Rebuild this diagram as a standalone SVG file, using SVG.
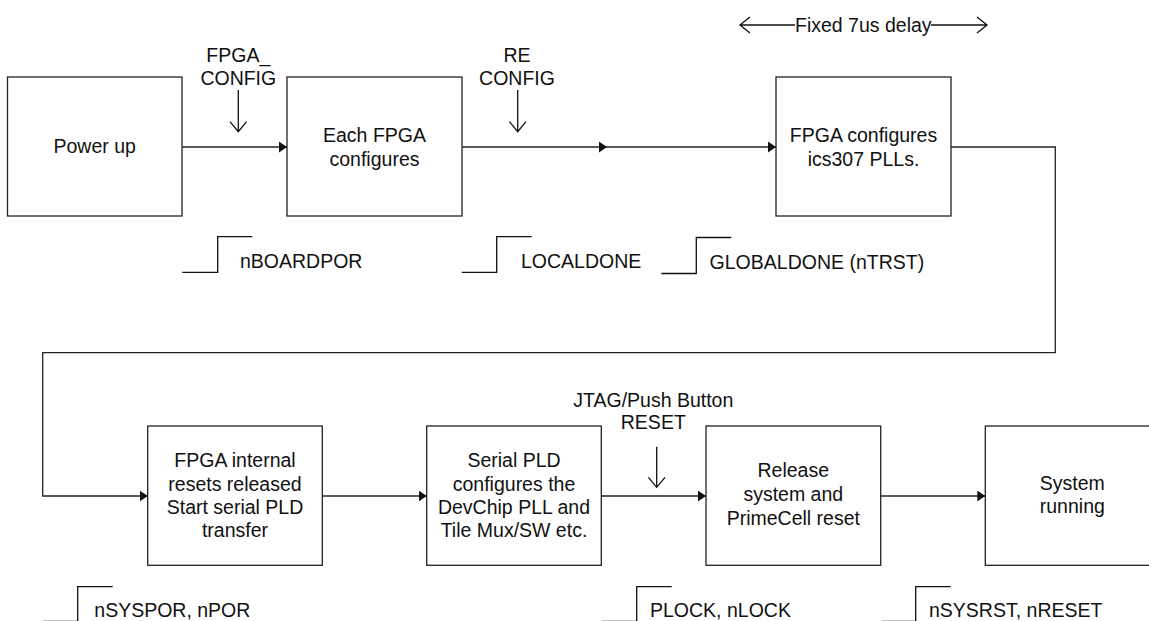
<svg xmlns="http://www.w3.org/2000/svg" width="1149" height="621" viewBox="0 0 1149 621">
<style>
.box{fill:#fff;stroke:#222;stroke-width:1.3}
.ln{fill:none;stroke:#222;stroke-width:1.3}
.sig{fill:none;stroke:#111;stroke-width:1.3}
.t{font-family:"Liberation Sans",Arial,sans-serif;font-size:19.5px;fill:#111}
.c{text-anchor:middle}
</style>
<defs>
<marker id="ah" markerUnits="userSpaceOnUse" markerWidth="9" markerHeight="12" refX="8" refY="5.5" orient="auto">
<path d="M0,0 L8,5.5 L0,11 z" fill="#111"/>
</marker>
</defs>
<rect width="1149" height="621" fill="#fff"/>

<g id="connectors">
<line class="ln" x1="182" y1="147" x2="287" y2="147" marker-end="url(#ah)"/>
<line class="ln" x1="462" y1="147" x2="607" y2="147" marker-end="url(#ah)"/>
<line class="ln" x1="607" y1="147" x2="776" y2="147" marker-end="url(#ah)"/>
<polyline class="ln" points="951,147 1055.3,147 1055.3,352.7 42.7,352.7 42.7,496 147.7,496" marker-end="url(#ah)"/>
<line class="ln" x1="322.3" y1="496" x2="426.7" y2="496" marker-end="url(#ah)"/>
<line class="ln" x1="601.3" y1="496" x2="706" y2="496" marker-end="url(#ah)"/>
<line class="ln" x1="880.7" y1="496" x2="985.3" y2="496" marker-end="url(#ah)"/>
</g>

<g id="n1"><rect class="box" x="7.5" y="77" width="174.5" height="139"/><text class="t c" x="94.7" y="153">Power up</text></g>
<g id="n2"><rect class="box" x="287" y="77" width="175" height="139"/><text class="t c" x="374.5" y="141.5">Each FPGA</text><text class="t c" x="374.5" y="165.5">configures</text></g>
<g id="n3"><rect class="box" x="776" y="77" width="175" height="139"/><text class="t c" x="863.5" y="141.5">FPGA configures</text><text class="t c" x="863.5" y="165.5">ics307 PLLs.</text></g>
<g id="n4"><rect class="box" x="147.7" y="426" width="174.6" height="139.3"/>
<text class="t c" x="235" y="467.3">FPGA internal</text><text class="t c" x="235" y="490.5">resets released</text><text class="t c" x="235" y="513.7">Start serial PLD</text><text class="t c" x="235" y="537.3">transfer</text></g>
<g id="n5"><rect class="box" x="426.7" y="426" width="174.6" height="139.3"/>
<text class="t c" x="514" y="467.3">Serial PLD</text><text class="t c" x="514" y="490.5">configures the</text><text class="t c" x="514" y="513.7">DevChip PLL and</text><text class="t c" x="514" y="537.3">Tile Mux/SW etc.</text></g>
<g id="n6"><rect class="box" x="706" y="426" width="174.7" height="139.3"/>
<text class="t c" x="793.3" y="477.3">Release</text><text class="t c" x="793.3" y="500.7">system and</text><text class="t c" x="793.3" y="525">PrimeCell reset</text></g>
<g id="n7"><rect class="box" x="985.3" y="426" width="174.6" height="139.3"/>
<text class="t c" x="1072.3" y="490">System</text><text class="t c" x="1072.3" y="513.3">running</text></g>

<g id="sig-fpga-config">
<text class="t c" x="238.3" y="61.5">FPGA_</text><text class="t c" x="238.3" y="85">CONFIG</text>
<path class="sig" d="M238.3,90 V131.7 M230,121.7 L238.3,131.7 L246.6,121.7"/>
</g>
<g id="sig-reconfig">
<text class="t c" x="517" y="61.5">RE</text><text class="t c" x="517" y="85">CONFIG</text>
<path class="sig" d="M517.7,90 V131.7 M509.4,121.7 L517.7,131.7 L526,121.7"/>
</g>
<g id="sig-delay">
<text class="t" x="795" y="31.5">Fixed 7us delay</text>
<path class="sig" d="M740,25 H795 M750,17 L740,25 L750,33 M931,25 H987 M977,17 L987,25 L977,33"/>
</g>
<g id="sig-jtag">
<text class="t c" x="653.3" y="406.7">JTAG/Push Button</text><text class="t c" x="653.3" y="429.3">RESET</text>
<path class="sig" d="M656.7,446.7 V487.3 M648.4,477.3 L656.7,487.3 L665,477.3"/>
</g>

<g id="step-nboardpor"><path class="sig" d="M182.3,272.3 H217.7 V236.7 H252.3"/><text class="t" x="240" y="267.7">nBOARDPOR</text></g>
<g id="step-localdone"><path class="sig" d="M461.7,272.3 H496.7 V236.7 H531.7"/><text class="t" x="521" y="267.7">LOCALDONE</text></g>
<g id="step-globaldone"><path class="sig" d="M661.3,273.5 H696.3 V237.5 H731.3"/><text class="t" x="709.6" y="269">GLOBALDONE (nTRST)</text></g>
<g id="step-nsyspor"><path class="sig" d="M43,621.3 H77.7 V586.7 H112.7"/><text class="t" x="94.3" y="616.7">nSYSPOR, nPOR</text></g>
<g id="step-plock"><path class="sig" d="M601.7,621.3 H636.7 V586.7 H671.7"/><text class="t" x="650" y="616.7">PLOCK, nLOCK</text></g>
<g id="step-nsysrst"><path class="sig" d="M881.7,621.3 H915.7 V586.7 H950.7"/><text class="t" x="929" y="616.7">nSYSRST, nRESET</text></g>
</svg>
